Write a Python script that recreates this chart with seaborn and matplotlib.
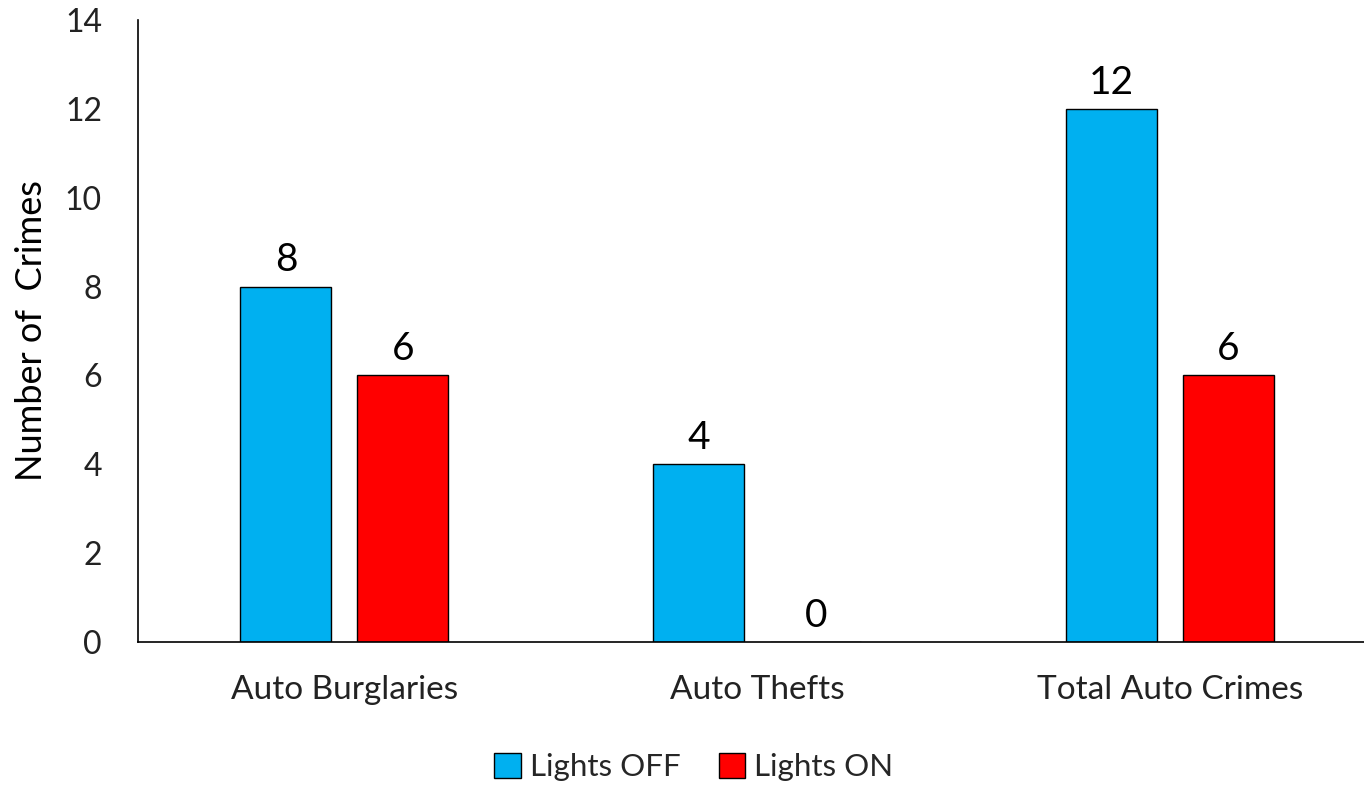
import matplotlib
matplotlib.use("Agg")
import matplotlib.pyplot as plt
import seaborn as sns
import pandas as pd

categories = ["Auto Burglaries", "Auto Thefts", "Total Auto Crimes"]
lights_off = [8, 4, 12]
lights_on = [6, 0, 6]
series = ["Lights OFF", "Lights ON"]
colors = ["#00B0F0", "#FF0000"]

df = pd.DataFrame({
    "Category": categories * 2,
    "Count": lights_off + lights_on,
    "Series": [series[0]] * 3 + [series[1]] * 3,
})

sns.set_style("white")
plt.rcParams["font.family"] = ["Lato", "DejaVu Sans"]

fig = plt.figure(figsize=(13.64, 7.85), dpi=100)
ax = fig.add_axes([138 / 1364, 143 / 785, (1364 - 138) / 1364, (642 - 20) / 785])

sns.barplot(data=df, x="Category", y="Count", hue="Series", hue_order=series,
            palette=colors, saturation=1, width=0.567, gap=0.222,
            edgecolor="black", linewidth=1, ax=ax, legend=True)

for c in ax.containers:
    ax.bar_label(c, fontsize=28, padding=6, color="black")

ax.set_ylim(0, 14)
ax.set_xlim(-0.5, 2.47)
ax.set_yticks(range(0, 15, 2))
ax.tick_params(axis="y", labelsize=23, colors="#222222", length=0, pad=26)
ax.tick_params(axis="x", labelsize=24, colors="#222222", length=0, pad=24)
ax.set_xlabel("")
ax.set_ylabel("Number of  Crimes", fontsize=26, color="black", labelpad=12)

for s in ["top", "right"]:
    ax.spines[s].set_visible(False)
ax.spines["left"].set_color("black")
ax.spines["bottom"].set_color("black")
ax.spines["left"].set_linewidth(1.2)
ax.spines["bottom"].set_linewidth(1.2)

handles, labels = ax.get_legend_handles_labels()
ax.get_legend().remove()
fig.legend(handles, labels, loc="center", bbox_to_anchor=(694 / 1364, 1 - 767 / 785),
           ncol=2, frameon=False, fontsize=22.5, handlelength=0.85,
           handleheight=0.85, handletextpad=0.3, columnspacing=1.2)

fig.savefig("out.png", dpi=100)
